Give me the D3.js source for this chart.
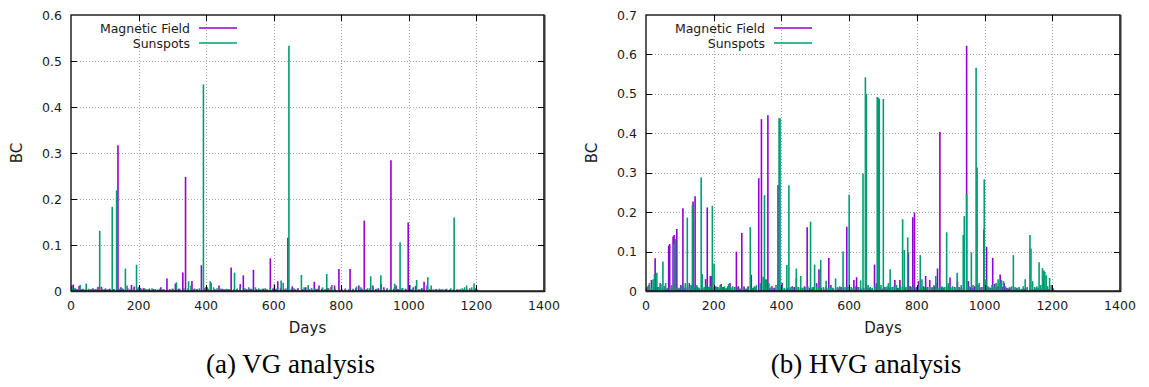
<!DOCTYPE html>
<html>
<head>
<meta charset="utf-8">
<script src="https://cdn.jsdelivr.net/npm/d3@7"></script>
<style>
  html, body { margin: 0; padding: 0; background: #fff; }
  svg { display: block; }
  .tick-label { font-family: "DejaVu Sans", sans-serif; font-size: 12.5px; fill: #1a1a1a; }
  .axis-title { font-family: "DejaVu Sans", sans-serif; font-size: 15px; fill: #1a1a1a; }
  .legend-text { font-family: "DejaVu Sans", sans-serif; font-size: 12.5px; fill: #1a1a1a; }
  .caption { font-family: "Liberation Serif", "DejaVu Serif", serif; font-size: 27px; fill: #000; }
</style>
</head>
<body>
<svg id="fig" width="1149" height="387"></svg>
<script>
// Betweenness centrality per day, [day, BC]
const vgMagnetic = [[3,0.012],[7,0.014],[12,0.006],[18,0.004],[24,0.011],[30,0.004],[35,0.005],[42,0.003],[52,0.004],[58,0.003],[65,0.006],[72,0.004],[80,0.009],[90,0.009],[98,0.004],[106,0.003],[115,0.005],[125,0.004],[139,0.317],[148,0.008],[155,0.004],[168,0.006],[179,0.013],[187,0.010],[196,0.004],[205,0.007],[214,0.006],[222,0.004],[232,0.005],[245,0.004],[256,0.003],[266,0.008],[275,0.004],[284,0.027],[292,0.004],[300,0.005],[309,0.016],[318,0.005],[331,0.040],[339,0.248],[347,0.006],[358,0.022],[366,0.005],[374,0.004],[386,0.056],[394,0.006],[403,0.008],[414,0.005],[426,0.004],[438,0.012],[447,0.005],[456,0.004],[465,0.004],[474,0.051],[482,0.004],[492,0.005],[501,0.015],[510,0.034],[520,0.004],[530,0.005],[540,0.046],[550,0.004],[560,0.003],[570,0.005],[580,0.004],[590,0.071],[598,0.006],[605,0.004],[612,0.021],[620,0.006],[630,0.005],[642,0.116],[655,0.010],[663,0.004],[672,0.006],[685,0.004],[695,0.008],[705,0.004],[712,0.006],[720,0.020],[727,0.004],[734,0.012],[742,0.005],[752,0.004],[760,0.006],[770,0.009],[780,0.012],[793,0.048],[802,0.004],[812,0.005],[826,0.048],[835,0.004],[843,0.006],[852,0.012],[861,0.005],[868,0.153],[876,0.004],[885,0.006],[893,0.012],[902,0.004],[910,0.006],[918,0.016],[926,0.008],[935,0.005],[947,0.284],[955,0.005],[962,0.012],[970,0.004],[980,0.006],[990,0.005],[998,0.149],[1006,0.004],[1013,0.008],[1020,0.011],[1030,0.004],[1038,0.006],[1045,0.020],[1054,0.012],[1062,0.004],[1072,0.003],[1082,0.004],[1095,0.003],[1108,0.004],[1120,0.003],[1132,0.004],[1145,0.003],[1160,0.004],[1172,0.003],[1185,0.004],[1195,0.005],[1202,0.003]];

const vgSunspots = [[3,0.010],[10,0.005],[16,0.004],[27,0.013],[36,0.004],[45,0.016],[52,0.005],[60,0.004],[70,0.003],[77,0.005],[85,0.131],[92,0.005],[102,0.006],[110,0.004],[122,0.183],[128,0.004],[135,0.219],[143,0.005],[152,0.006],[161,0.049],[166,0.012],[175,0.004],[185,0.005],[194,0.057],[199,0.008],[208,0.005],[218,0.006],[228,0.004],[240,0.006],[250,0.004],[262,0.005],[272,0.004],[292,0.004],[302,0.005],[312,0.019],[322,0.005],[334,0.006],[348,0.021],[355,0.012],[364,0.005],[372,0.004],[380,0.006],[392,0.449],[398,0.008],[406,0.005],[412,0.021],[415,0.018],[422,0.008],[432,0.006],[443,0.005],[452,0.004],[461,0.005],[470,0.004],[484,0.040],[492,0.005],[500,0.008],[515,0.006],[526,0.008],[535,0.005],[546,0.008],[556,0.006],[566,0.005],[575,0.006],[590,0.008],[602,0.015],[610,0.006],[622,0.023],[628,0.018],[636,0.006],[645,0.533],[652,0.005],[660,0.006],[670,0.005],[682,0.035],[690,0.008],[702,0.013],[712,0.005],[722,0.006],[730,0.005],[745,0.008],[757,0.037],[763,0.006],[772,0.013],[782,0.005],[800,0.004],[812,0.005],[822,0.004],[835,0.005],[845,0.010],[858,0.008],[870,0.004],[878,0.006],[887,0.032],[894,0.010],[905,0.005],[917,0.034],[926,0.004],[936,0.006],[945,0.005],[958,0.016],[966,0.005],[974,0.106],[982,0.006],[992,0.004],[1003,0.013],[1012,0.005],[1023,0.024],[1032,0.004],[1042,0.006],[1056,0.030],[1066,0.012],[1078,0.004],[1090,0.005],[1100,0.004],[1112,0.005],[1124,0.006],[1134,0.160],[1142,0.004],[1152,0.004],[1158,0.006],[1165,0.008],[1171,0.012],[1180,0.006],[1186,0.008],[1193,0.017],[1198,0.006]];

const hvgMagnetic = [[2,0.008],[9,0.015],[16,0.028],[22,0.006],[27,0.083],[34,0.010],[42,0.020],[48,0.006],[55,0.012],[60,0.005],[67,0.115],[70,0.119],[75,0.008],[80,0.138],[83,0.142],[88,0.012],[91,0.157],[97,0.006],[103,0.015],[109,0.210],[115,0.008],[122,0.010],[128,0.020],[134,0.012],[139,0.227],[145,0.240],[152,0.010],[158,0.006],[165,0.015],[172,0.008],[176,0.030],[181,0.212],[186,0.010],[190,0.038],[193,0.038],[200,0.008],[206,0.012],[212,0.010],[218,0.006],[222,0.018],[228,0.010],[235,0.006],[242,0.012],[248,0.020],[255,0.008],[262,0.010],[267,0.100],[273,0.012],[278,0.006],[283,0.147],[290,0.010],[296,0.006],[302,0.012],[311,0.041],[318,0.008],[325,0.010],[333,0.286],[341,0.436],[348,0.012],[354,0.030],[360,0.446],[366,0.008],[372,0.012],[380,0.008],[390,0.269],[396,0.006],[402,0.020],[410,0.006],[418,0.008],[426,0.006],[432,0.012],[438,0.010],[444,0.033],[450,0.010],[456,0.006],[462,0.008],[468,0.012],[476,0.162],[483,0.008],[490,0.006],[496,0.010],[504,0.020],[511,0.055],[518,0.008],[525,0.006],[532,0.010],[540,0.084],[546,0.015],[552,0.006],[560,0.008],[568,0.006],[576,0.010],[583,0.008],[593,0.163],[600,0.010],[607,0.006],[614,0.028],[622,0.035],[628,0.010],[635,0.006],[643,0.008],[652,0.010],[660,0.008],[668,0.006],[675,0.067],[681,0.020],[690,0.008],[697,0.006],[705,0.010],[712,0.006],[720,0.008],[728,0.010],[735,0.028],[742,0.008],[750,0.028],[758,0.010],[766,0.008],[775,0.098],[781,0.012],[788,0.187],[793,0.199],[799,0.010],[805,0.025],[812,0.008],[819,0.012],[826,0.038],[832,0.010],[838,0.028],[845,0.008],[852,0.012],[856,0.020],[861,0.057],[868,0.403],[874,0.010],[880,0.008],[887,0.010],[893,0.012],[898,0.034],[905,0.008],[912,0.010],[920,0.025],[926,0.010],[932,0.008],[940,0.012],[947,0.622],[952,0.025],[958,0.010],[965,0.008],[971,0.012],[980,0.015],[986,0.008],[992,0.010],[998,0.156],[1006,0.112],[1012,0.010],[1018,0.008],[1024,0.084],[1030,0.018],[1036,0.010],[1040,0.012],[1046,0.042],[1052,0.010],[1058,0.020],[1064,0.008],[1070,0.006],[1078,0.008],[1086,0.006],[1094,0.008],[1102,0.006],[1110,0.005],[1118,0.006],[1126,0.008],[1134,0.006],[1142,0.005],[1150,0.006],[1158,0.008],[1166,0.006],[1174,0.005],[1182,0.006],[1190,0.005],[1198,0.004]];

const hvgSunspots = [[4,0.012],[10,0.020],[16,0.008],[21,0.030],[25,0.043],[32,0.046],[38,0.010],[44,0.018],[50,0.075],[54,0.012],[58,0.020],[63,0.008],[70,0.010],[76,0.015],[82,0.120],[87,0.132],[92,0.010],[98,0.008],[104,0.012],[110,0.015],[116,0.020],[122,0.186],[128,0.012],[133,0.015],[137,0.218],[143,0.010],[150,0.015],[156,0.008],[163,0.288],[166,0.043],[172,0.010],[178,0.015],[184,0.008],[190,0.012],[196,0.216],[201,0.070],[207,0.010],[213,0.008],[219,0.015],[225,0.010],[232,0.012],[238,0.008],[244,0.018],[250,0.010],[256,0.012],[262,0.008],[270,0.010],[276,0.006],[282,0.008],[289,0.012],[295,0.006],[301,0.010],[308,0.162],[314,0.008],[320,0.012],[326,0.015],[338,0.020],[346,0.036],[350,0.243],[355,0.027],[363,0.020],[370,0.010],[377,0.008],[384,0.015],[393,0.438],[396,0.438],[402,0.012],[408,0.008],[416,0.066],[422,0.268],[428,0.010],[434,0.008],[444,0.057],[450,0.010],[457,0.038],[463,0.008],[470,0.010],[478,0.012],[486,0.176],[492,0.010],[498,0.067],[504,0.012],[510,0.008],[516,0.079],[524,0.010],[532,0.026],[538,0.008],[545,0.012],[552,0.008],[560,0.032],[566,0.010],[572,0.012],[582,0.100],[588,0.010],[594,0.012],[600,0.244],[606,0.010],[612,0.008],[618,0.012],[626,0.010],[634,0.027],[641,0.298],[648,0.542],[651,0.500],[656,0.015],[662,0.010],[668,0.008],[676,0.012],[683,0.492],[686,0.490],[689,0.488],[694,0.015],[701,0.487],[706,0.010],[712,0.012],[716,0.020],[721,0.055],[727,0.010],[733,0.012],[740,0.015],[746,0.008],[752,0.012],[758,0.182],[763,0.104],[768,0.010],[773,0.136],[779,0.012],[785,0.010],[790,0.017],[797,0.008],[803,0.012],[810,0.091],[815,0.030],[822,0.010],[830,0.008],[838,0.012],[845,0.010],[850,0.015],[856,0.038],[862,0.008],[868,0.010],[875,0.012],[881,0.010],[888,0.149],[893,0.020],[900,0.010],[906,0.012],[912,0.008],[919,0.046],[925,0.010],[931,0.015],[937,0.142],[940,0.190],[947,0.245],[954,0.012],[961,0.098],[966,0.015],[975,0.566],[978,0.313],[984,0.020],[990,0.010],[999,0.283],[1004,0.030],[1010,0.012],[1016,0.008],[1022,0.015],[1028,0.012],[1034,0.020],[1040,0.030],[1046,0.020],[1050,0.028],[1056,0.025],[1062,0.012],[1068,0.008],[1074,0.010],[1080,0.012],[1085,0.091],[1090,0.010],[1096,0.008],[1102,0.010],[1108,0.006],[1114,0.012],[1120,0.030],[1126,0.010],[1134,0.142],[1137,0.108],[1142,0.025],[1148,0.010],[1154,0.012],[1161,0.073],[1166,0.015],[1171,0.058],[1175,0.052],[1178,0.048],[1182,0.040],[1186,0.012],[1192,0.033],[1197,0.015],[1203,0.007]];

const dayTicks = [0, 200, 400, 600, 800, 1000, 1200, 1400];
const vgTicks = [0, 0.1, 0.2, 0.3, 0.4, 0.5, 0.6];
const hvgTicks = [0, 0.1, 0.2, 0.3, 0.4, 0.5, 0.6, 0.7];
const seriesNames = ["Magnetic Field", "Sunspots"];
const captions = ["(a) VG analysis", "(b) HVG analysis"];

const colors = ["#9400d3", "#009e73"];

const svg = d3.select("#fig");

const panels = [
  { left: 71, right: 544, top: 15, bottom: 291, yTicks: vgTicks, series: [vgMagnetic, vgSunspots], caption: captions[0] },
  { left: 646, right: 1120, top: 15, bottom: 291, yTicks: hvgTicks, series: [hvgMagnetic, hvgSunspots], caption: captions[1] }
];

function fmt(v) { return v === 0 ? "0" : d3.format(".1f")(v); }

panels.forEach(p => {
  const x = d3.scaleLinear().domain([0, 1400]).range([p.left, p.right]);
  const y = d3.scaleLinear().domain([0, d3.max(p.yTicks)]).range([p.bottom, p.top]);
  const g = svg.append("g");

  // dotted grid
  const grid = g.append("g").attr("stroke", "#a8a8a8").attr("stroke-width", 1).attr("stroke-dasharray", "1,2");
  grid.selectAll("line.gx").data(dayTicks.slice(1, -1)).join("line")
    .attr("x1", d => Math.round(x(d)) + 0.5).attr("x2", d => Math.round(x(d)) + 0.5)
    .attr("y1", p.top).attr("y2", p.bottom);
  grid.selectAll("line.gy").data(p.yTicks.slice(1, -1)).join("line")
    .attr("x1", p.left).attr("x2", p.right)
    .attr("y1", d => Math.round(y(d)) + 0.5).attr("y2", d => Math.round(y(d)) + 0.5);

  // impulses, magnetic field first, sunspots on top
  p.series.forEach((s, i) => {
    g.append("g").attr("stroke", colors[i]).attr("stroke-width", 1.6)
      .selectAll("line").data(s).join("line")
      .attr("x1", d => x(d[0])).attr("x2", d => x(d[0]))
      .attr("y1", y(0)).attr("y2", d => y(d[1]));
  });

  // border
  g.append("rect").attr("x", p.left).attr("y", p.top)
    .attr("width", p.right - p.left).attr("height", p.bottom - p.top)
    .attr("fill", "none").attr("stroke", "#000").attr("stroke-width", 1.3);
  g.append("line").attr("x1", p.right + 0.5).attr("x2", p.right + 0.5)
    .attr("y1", p.top).attr("y2", p.bottom + 1)
    .attr("stroke", "#333").attr("stroke-width", 2);
  g.append("line").attr("x1", p.left).attr("x2", p.right + 1)
    .attr("y1", p.bottom + 0.5).attr("y2", p.bottom + 0.5)
    .attr("stroke", "#222").attr("stroke-width", 1.6);

  // inward ticks, mirrored
  const tk = g.append("g").attr("stroke", "#000").attr("stroke-width", 1);
  dayTicks.slice(1, -1).forEach(d => {
    const xx = Math.round(x(d)) + 0.5;
    tk.append("line").attr("x1", xx).attr("x2", xx).attr("y1", p.bottom).attr("y2", p.bottom - 6);
    tk.append("line").attr("x1", xx).attr("x2", xx).attr("y1", p.top).attr("y2", p.top + 6);
  });
  p.yTicks.slice(1, -1).forEach(d => {
    const yy = Math.round(y(d)) + 0.5;
    tk.append("line").attr("x1", p.left).attr("x2", p.left + 6).attr("y1", yy).attr("y2", yy);
    tk.append("line").attr("x1", p.right).attr("x2", p.right - 6).attr("y1", yy).attr("y2", yy);
  });

  // tick labels
  g.selectAll("text.xl").data(dayTicks).join("text").attr("class", "tick-label")
    .attr("x", d => x(d)).attr("y", p.bottom + 19).attr("text-anchor", "middle").text(d => d);
  g.selectAll("text.yl").data(p.yTicks).join("text").attr("class", "tick-label")
    .attr("x", p.left - 9).attr("y", d => y(d) + 4.5).attr("text-anchor", "end").text(fmt);

  // axis titles
  g.append("text").attr("class", "axis-title")
    .attr("x", (p.left + p.right) / 2).attr("y", 333).attr("text-anchor", "middle").text("Days");
  g.append("text").attr("class", "axis-title")
    .attr("transform", `translate(${p.left - 49},${(p.top + p.bottom) / 2}) rotate(-90)`)
    .attr("text-anchor", "middle").text("BC");

  // legend
  seriesNames.forEach((name, i) => {
    const ly = 28 + i * 15;
    g.append("text").attr("class", "legend-text")
      .attr("x", p.left + 119).attr("y", ly + 4.5).attr("text-anchor", "end").text(name);
    g.append("line").attr("x1", p.left + 128).attr("x2", p.left + 166)
      .attr("y1", ly).attr("y2", ly).attr("stroke", colors[i]).attr("stroke-width", 1.6);
  });

  // caption
  g.append("text").attr("class", "caption")
    .attr("x", (p.left + p.right) / 2 - 17).attr("y", 373).attr("text-anchor", "middle").text(p.caption);
});
</script>
</body>
</html>
